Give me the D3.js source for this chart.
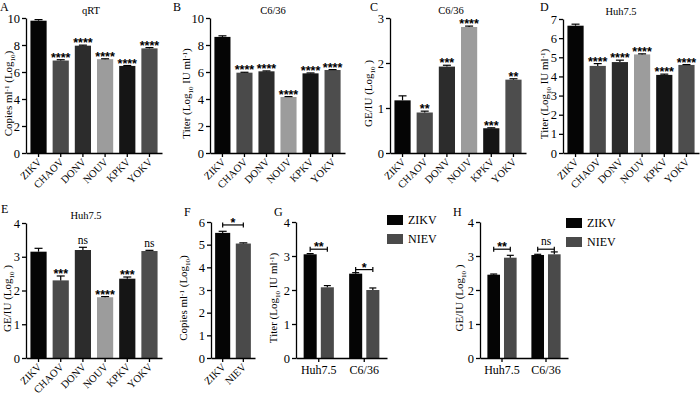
<!DOCTYPE html>
<html>
<head>
<meta charset="utf-8">
<style>
  body { margin: 0; background: #fff; }
  svg { display: block; }
  text { font-family: "Liberation Serif", "Times New Roman", serif; fill: #000; }
  .axis path, .axis line { stroke: #000; stroke-width: 1.3; }
  .stars { font-family: "Liberation Sans", Arial, sans-serif; font-weight: bold; }
</style>
</head>
<body>
<div id="chart"></div>
<script src="https://d3js.org/d3.v7.min.js"></script>
<script>
const width = 700
const height = 395

// ---- data ----
const viruses = ["ZIKV", "CHAOV", "DONV", "NOUV", "KPKV", "YOKV"]
const virusColors = ["#050505", "#4a4a4a", "#2c2c2c", "#9c9c9c", "#151515", "#4d4d4d"]

const qrtValues = [9.8, 6.85, 7.95, 6.95, 6.45, 7.75]
const qrtErrors = [0.08, 0.06, 0.04, 0.03, 0.03, 0.06]
const qrtSig = ["", "****", "****", "****", "****", "****"]

const c636TiterValues = [8.6, 5.95, 6.05, 4.15, 5.9, 6.15]
const c636TiterErrors = [0.08, 0.03, 0.03, 0.03, 0.03, 0.03]
const c636TiterSig = ["", "****", "****", "****", "****", "****"]

const c636GeValues = [1.17, 0.9, 1.92, 2.8, 0.55, 1.63]
const c636GeErrors = [0.1, 0.03, 0.03, 0.02, 0.01, 0.02]
const c636GeSig = ["", "**", "***", "****", "***", "**"]

const huhTiterValues = [6.65, 4.55, 4.75, 5.15, 4.08, 4.6]
const huhTiterErrors = [0.08, 0.12, 0.1, 0.03, 0.04, 0.02]
const huhTiterSig = ["", "****", "****", "****", "****", "****"]

const huhGeValues = [3.15, 2.3, 3.2, 1.8, 2.35, 3.17]
const huhGeErrors = [0.1, 0.13, 0.08, 0.02, 0.05, 0.02]
const huhGeSig = ["", "***", "ns", "****", "***", "ns"]

const pairViruses = ["ZIKV", "NIEV"]
const pairColors = ["#050505", "#4a4a4a"]
const cellLines = ["Huh7.5", "C6/36"]

const copiesValues = [5.52, 5.05]
const copiesErrors = [0.07, 0.03]
const copiesBracket = [5.87]
const copiesSig = ["*"]

const titerValues = [[3.05, 2.08], [2.48, 2.0]]
const titerErrors = [[0.02, 0.05], [0.03, 0.06]]
const titerBracket = [3.2, 2.6]
const titerSig = ["**", "*"]

const geValues = [[2.45, 2.95], [3.03, 3.05]]
const geErrors = [[0.02, 0.07], [0.02, 0.07]]
const geBracket = [3.2, 3.2]
const geSig = ["**", "ns"]

const ticks10 = [0, 2, 4, 6, 8, 10]
const ticks3 = [0, 1, 2, 3]
const ticks4 = [0, 1, 2, 3, 4]
const ticks6 = [0, 1, 2, 3, 4, 5, 6]
const ticks7 = [0, 1, 2, 3, 4, 5, 6, 7]

const labelCopies = [["Copies ml", ""], ["-1", "sup"], [" (Log", ""], ["10", "sub"], [")", ""]]
const labelTiter = [["Titer (Log", ""], ["10", "sub"], [" IU ml", ""], ["-1", "sup"], [")", ""]]
const labelGe = [["GE/IU (Log", ""], ["10", "sub"], [" )", ""]]

// ---- drawing ----
const svg = d3.select("#chart").append("svg").attr("width", width).attr("height", height)

const yLabel = (parts, x, y) => {
    const t = svg.append("text")
        .attr("transform", "translate(" + x + "," + y + ") rotate(-90)")
        .attr("text-anchor", "middle")
        .attr("font-size", 11)
    let shift = 0
    parts.forEach(p => {
        const target = p[1] === "sup" ? -3.5 : p[1] === "sub" ? 2.5 : 0
        t.append("tspan")
            .attr("dy", target - shift)
            .attr("font-size", p[1] ? 7 : 11)
            .text(p[0])
        shift = target
    })
}

const yAxis = (p, y) => {
    svg.append("g").attr("class", "axis")
        .attr("transform", "translate(" + p.left + ",0)")
        .call(d3.axisLeft(y).tickValues(p.ticks).tickFormat(d3.format("d")).tickSize(4).tickSizeOuter(0).tickPadding(2))
        .selectAll("text").attr("font-size", 12.5).style("font-family", "Liberation Serif")
}

const errorBar = (g, cx, yTop, yVal, capW) => {
    g.append("line").attr("x1", cx).attr("x2", cx).attr("y1", yVal).attr("y2", yTop)
        .attr("stroke", "#000").attr("stroke-width", 1.2)
    g.append("line").attr("x1", cx - capW / 2).attr("x2", cx + capW / 2).attr("y1", yTop).attr("y2", yTop)
        .attr("stroke", "#000").attr("stroke-width", 1.2)
}

const sigText = (x, y, s) => {
    if (s === "ns") {
        svg.append("text").attr("x", x).attr("y", y - 3)
            .attr("text-anchor", "middle").attr("font-size", 11.5).text(s)
    } else {
        svg.append("text").attr("class", "stars").attr("x", x).attr("y", y + 2)
            .attr("text-anchor", "middle").attr("font-size", 12.5).text(s)
    }
}

const letter = (s, x, y) => {
    svg.append("text").attr("x", x).attr("y", y).attr("font-size", 12).text(s)
}

const bracket = (x1, x2, yy, s) => {
    svg.append("line").attr("x1", x1).attr("x2", x2).attr("y1", yy).attr("y2", yy)
        .attr("stroke", "#000").attr("stroke-width", 1.2)
    ;[x1, x2].forEach(xx => svg.append("line").attr("x1", xx).attr("x2", xx)
        .attr("y1", yy - 2.5).attr("y2", yy + 2.5).attr("stroke", "#000").attr("stroke-width", 1.2))
    if (s === "ns") {
        svg.append("text").attr("x", (x1 + x2) / 2).attr("y", yy - 4)
            .attr("text-anchor", "middle").attr("font-size", 11.5).text(s)
    } else {
        svg.append("text").attr("class", "stars").attr("x", (x1 + x2) / 2).attr("y", yy + 2)
            .attr("text-anchor", "middle").attr("font-size", 12.5).text(s)
    }
}

const virusPanel = (p) => {
    const y = d3.scaleLinear().domain([0, p.ticks[p.ticks.length - 1]]).range([p.bottom, p.top])
    const x = d3.scaleBand().domain(p.cats).range([p.left, p.right]).paddingInner(0.27).paddingOuter(0.2)
    const g = svg.append("g")

    g.selectAll("rect").data(p.values).enter().append("rect")
        .attr("x", (d, i) => x(p.cats[i]))
        .attr("y", d => y(d))
        .attr("width", x.bandwidth())
        .attr("height", d => y(0) - y(d))
        .attr("fill", (d, i) => p.colors[i])

    p.values.forEach((v, i) => {
        const cx = x(p.cats[i]) + x.bandwidth() / 2
        errorBar(g, cx, y(v + p.errors[i]), y(v), 8)
        if (p.sig && p.sig[i]) sigText(cx, y(v + p.errors[i]), p.sig[i])
    })

    yAxis(p, y)
    const xa = svg.append("g").attr("class", "axis")
        .attr("transform", "translate(0," + p.bottom + ")")
        .call(d3.axisBottom(x).tickSize(4).tickSizeOuter(0))
    xa.selectAll("text")
        .attr("font-size", 10.5)
        .style("font-family", "Liberation Serif")
        .attr("text-anchor", "end")
        .attr("x", 0).attr("y", 0)
        .attr("dy", "0.35em")
        .attr("transform", "translate(1,7) rotate(-45)")

    if (p.brackets) {
        p.brackets.forEach((b, i) => {
            const x1 = x(p.cats[0]) + x.bandwidth() / 2
            const x2 = x(p.cats[1]) + x.bandwidth() / 2
            bracket(x1, x2, y(b), p.bracketSig[i])
        })
    }

    if (p.title) svg.append("text").attr("x", p.titleX).attr("y", p.top - 4)
        .attr("text-anchor", "middle").attr("font-size", 10.5).text(p.title)
    yLabel(p.label, p.labelX, (p.top + p.bottom) / 2 + 8)
    letter(p.letter, p.letterX, p.letterY)
}

const groupPanel = (p) => {
    const y = d3.scaleLinear().domain([0, p.ticks[p.ticks.length - 1]]).range([p.bottom, p.top])
    const x0 = d3.scaleBand().domain(cellLines).range([p.left, p.right]).paddingInner(0.2).paddingOuter(0.1)
    const x1 = d3.scaleBand().domain(pairViruses).range([0, x0.bandwidth()]).paddingInner(0.24).paddingOuter(0.18)
    const g = svg.append("g")

    cellLines.forEach((c, gi) => {
        pairViruses.forEach((v, vi) => {
            const val = p.values[gi][vi]
            const bx = x0(c) + x1(v)
            g.append("rect").attr("x", bx).attr("y", y(val))
                .attr("width", x1.bandwidth()).attr("height", y(0) - y(val))
                .attr("fill", pairColors[vi])
            errorBar(g, bx + x1.bandwidth() / 2, y(val + p.errors[gi][vi]), y(val), 7)
        })
        const ca = x0(c) + x1("ZIKV") + x1.bandwidth() / 2
        const cb = x0(c) + x1("NIEV") + x1.bandwidth() / 2
        bracket(ca, cb, y(p.brackets[gi]), p.sig[gi])
    })

    yAxis(p, y)
    svg.append("g").attr("class", "axis")
        .attr("transform", "translate(0," + p.bottom + ")")
        .call(d3.axisBottom(x0).tickSize(4).tickSizeOuter(0))
        .selectAll("text").attr("font-size", 12).style("font-family", "Liberation Serif")

    yLabel(p.label, p.labelX, (p.top + p.bottom) / 2 + 8)
    letter(p.letter, p.letterX, p.letterY)

    const lg = svg.append("g").attr("transform", "translate(" + p.legendX + "," + p.legendY + ")")
    pairViruses.forEach((v, i) => {
        lg.append("rect").attr("x", 0).attr("y", i * 19).attr("width", 16).attr("height", 10).attr("fill", pairColors[i])
        lg.append("text").attr("x", 21).attr("y", i * 19 + 9).attr("font-size", 12).text(v)
    })
}

// row 1
virusPanel({ cats: viruses, colors: virusColors, values: qrtValues, errors: qrtErrors, sig: qrtSig, ticks: ticks10,
    left: 26, right: 162, top: 18, bottom: 153, title: "qRT", titleX: 91,
    label: labelCopies, labelX: 12, letter: "A", letterX: 0, letterY: 11 })
virusPanel({ cats: viruses, colors: virusColors, values: c636TiterValues, errors: c636TiterErrors, sig: c636TiterSig, ticks: ticks10,
    left: 210, right: 345, top: 18, bottom: 153, title: "C6/36", titleX: 273,
    label: labelTiter, labelX: 190, letter: "B", letterX: 173, letterY: 11 })
virusPanel({ cats: viruses, colors: virusColors, values: c636GeValues, errors: c636GeErrors, sig: c636GeSig, ticks: ticks3,
    left: 390, right: 526, top: 18, bottom: 153, title: "C6/36", titleX: 451,
    label: labelGe, labelX: 372, letter: "C", letterX: 370, letterY: 11 })
virusPanel({ cats: viruses, colors: virusColors, values: huhTiterValues, errors: huhTiterErrors, sig: huhTiterSig, ticks: ticks7,
    left: 563, right: 699, top: 19, bottom: 153, title: "Huh7.5", titleX: 621,
    label: labelTiter, labelX: 548, letter: "D", letterX: 540, letterY: 11 })

// row 2
virusPanel({ cats: viruses, colors: virusColors, values: huhGeValues, errors: huhGeErrors, sig: huhGeSig, ticks: ticks4,
    left: 26, right: 162, top: 223, bottom: 358, title: "Huh7.5", titleX: 86,
    label: labelGe, labelX: 11, letter: "E", letterX: 1, letterY: 213 })
virusPanel({ cats: pairViruses, colors: pairColors, values: copiesValues, errors: copiesErrors, ticks: ticks6,
    left: 211, right: 255, top: 222, bottom: 358, brackets: copiesBracket, bracketSig: copiesSig,
    label: labelCopies, labelX: 187, letter: "F", letterX: 184, letterY: 216 })
groupPanel({ values: titerValues, errors: titerErrors, brackets: titerBracket, sig: titerSig, ticks: ticks4,
    left: 296, right: 387, top: 222, bottom: 358, label: labelTiter, labelX: 277,
    letter: "G", letterX: 274, letterY: 216, legendX: 387, legendY: 215 })
groupPanel({ values: geValues, errors: geErrors, brackets: geBracket, sig: geSig, ticks: ticks4,
    left: 480, right: 568, top: 222, bottom: 358, label: labelGe, labelX: 463,
    letter: "H", letterX: 453, letterY: 216, legendX: 566, legendY: 218 })
</script>
</body>
</html>
